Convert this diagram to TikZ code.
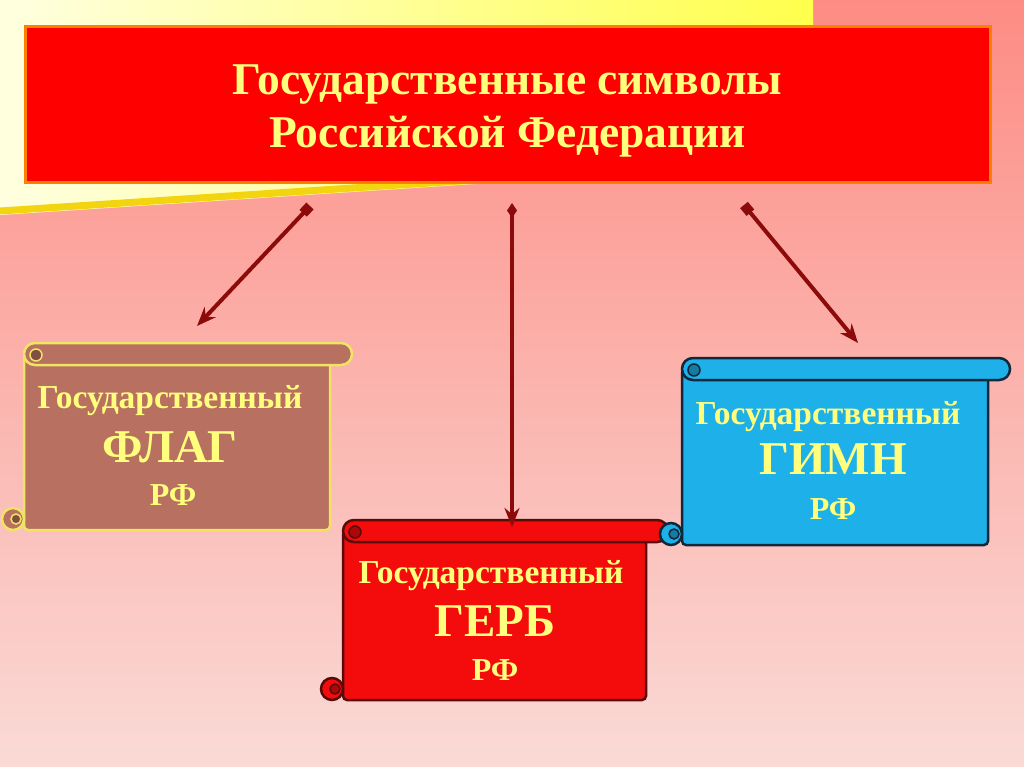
\documentclass[tikz,border=0pt]{standalone}
\usepackage{fontspec}
\setmainfont{Liberation Serif}
\usetikzlibrary{arrows.meta}

\definecolor{lettering}{RGB}{255,255,125}
\definecolor{arrowred}{RGB}{140,10,10}
\definecolor{flagfill}{RGB}{184,112,96}
\definecolor{flagedge}{RGB}{240,228,100}
\definecolor{gerbfill}{RGB}{244,12,12}
\definecolor{gerbedge}{RGB}{90,10,10}
\definecolor{gimnfill}{RGB}{30,176,232}
\definecolor{gimnedge}{RGB}{15,40,60}

% scroll: left, top, right, bottom, fill, edge
\newcommand{\scrollshape}[6]{%
    \filldraw[fill=#5, draw=#6, line width=2.5pt, rounded corners=4pt]
        ({#1+22},{#2+11}) -- ({#1+22},#4) -- ({#3-22},#4) -- ({#3-22},{#2+11}) -- cycle;
    \filldraw[fill=#5, draw=#6, line width=2.5pt]
        ({#1+11},{#4-11}) circle (11);
    \filldraw[fill=#5!70!black, draw=#6, line width=1.5pt]
        ({#1+14},{#4-11}) circle (5);
    \filldraw[fill=#5, draw=#6, line width=2.5pt, rounded corners=10.9pt]
        ({#1+22},#2) rectangle (#3,{#2+22});
    \filldraw[fill=#5!70!black, draw=#6, line width=1.5pt]
        ({#1+34},{#2+12}) circle (6);
    \draw[#6, line width=1.5pt] ({#1+34},{#2+22}) -- ({#3-22},{#2+22});
}

\tikzset{
    titletext/.style={align=center, text=lettering,
        font=\bfseries\fontsize{45.5}{53}\selectfont},
    wordtext/.style={text=lettering, font=\bfseries\fontsize{33.5}{36}\selectfont},
    symboltext/.style={text=lettering, font=\bfseries\fontsize{47}{50}\selectfont},
    rftext/.style={text=lettering, font=\bfseries\fontsize{32}{35}\selectfont},
    sqlink/.style={arrowred, line width=4pt,
        {Square[length=10pt,width=10pt]}-{Stealth[length=19pt,width=15pt]}},
    dmlink/.style={arrowred, line width=4pt,
        {Diamond[length=15pt,width=10pt]}-{Stealth[length=19pt,width=15pt]}}
}

\begin{document}
\begin{tikzpicture}[x=1pt, y=-1pt]
    \useasboundingbox (0,0) rectangle (1024,767);
    \shade[top color={rgb,255:red,253;green,140;blue,132},
           bottom color={rgb,255:red,250;green,218;blue,214}]
        (0,0) rectangle (1024,767);
    \shade[left color=yellow!12, right color=yellow!70]
        (0,0) -- (813,0) -- (813,162) -- (0,215) -- cycle;
    \draw[yellow!80!orange!95!black, line width=7pt] (0,211) -- (813,158);

    % banner
    \filldraw[fill=red, draw=orange, line width=3pt] (25,27) rectangle (990,183);
    \node[titletext] (title) at (507.5,111)
        {Государственные символы\\Российской Федерации};

    % scrolls
    \scrollshape{2}{343}{352}{530}{flagfill}{flagedge}
    \scrollshape{321}{520}{668}{700}{gerbfill}{gerbedge}
    \scrollshape{660}{358}{1010}{545}{gimnfill}{gimnedge}

    \node[wordtext] (flagword) at (170,401) {Государственный};
    \node[symboltext] (flagname) at (170,447) {ФЛАГ};
    \node[rftext] (flagrf) at (173,495) {РФ};

    \node[wordtext] (gerbword) at (491,576) {Государственный};
    \node[symboltext] (gerbname) at (495,621) {ГЕРБ};
    \node[rftext] (gerbrf) at (495,670) {РФ};

    \node[wordtext] (gimnword) at (828,417) {Государственный};
    \node[symboltext] (gimnname) at (833,459) {ГИМН};
    \node[rftext] (gimnrf) at (833,509) {РФ};

    % arrows
    \coordinate (flagfrom) at (310,206);
    \coordinate (flagto) at (197,326);
    \coordinate (gerbfrom) at (512,203);
    \coordinate (gerbto) at (512,527);
    \coordinate (gimnfrom) at (744,205);
    \coordinate (gimnto) at (858,343);
    \draw[sqlink] (flagfrom) -- (flagto);
    \draw[dmlink] (gerbfrom) -- (gerbto);
    \draw[sqlink] (gimnfrom) -- (gimnto);
\end{tikzpicture}
\end{document}
